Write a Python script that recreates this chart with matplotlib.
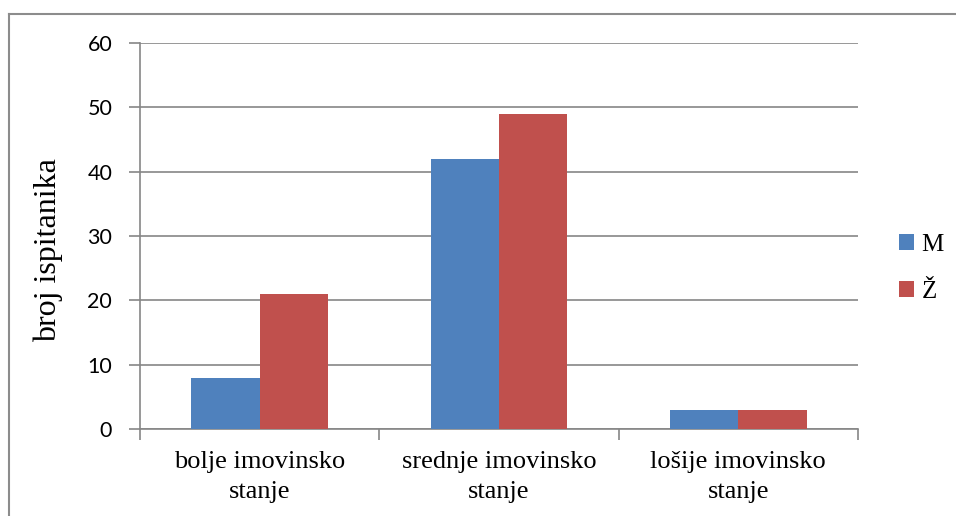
import matplotlib.pyplot as plt
import numpy as np
from matplotlib.lines import Line2D

categories = ["bolje imovinsko\nstanje", "srednje imovinsko\nstanje", "lošije imovinsko\nstanje"]
m_values = [8, 42, 3]
z_values = [21, 49, 3]
series_names = ["M", "Ž"]
y_ticks = [0, 10, 20, 30, 40, 50, 60]

blue = "#4f81bd"
red = "#c0504d"
grid_col = "#868686"
serif = ["Liberation Serif", "DejaVu Serif"]
sans = ["Lato", "DejaVu Sans"]

fig = plt.figure(figsize=(9.56, 5.16), dpi=100)
ax = fig.add_axes([140 / 956, 1 - 429 / 516, 718 / 956, 386 / 516])

x = np.arange(len(categories))
w = 1 / 3.5
ax.bar(x - w / 2, m_values, w, color=blue, label=series_names[0], zorder=3)
ax.bar(x + w / 2, z_values, w, color=red, label=series_names[1], zorder=3)

ax.set_xlim(-0.5, 2.5)
ax.set_ylim(0, 60)
ax.set_yticks(y_ticks)
ax.set_yticklabels([str(t) for t in y_ticks], family=sans, fontsize=15.5)
ax.yaxis.grid(True, color=grid_col, linewidth=1.2, zorder=0)
ax.tick_params(axis="y", length=8, width=1.2, color=grid_col, pad=12)

# category boundaries carry the tick marks, labels sit at the centers
ax.set_xticks([-0.5, 0.5, 1.5, 2.5])
ax.set_xticklabels([])
ax.set_xticks(x, minor=True)
ax.set_xticklabels(categories, minor=True, family=serif, fontsize=19,
                   linespacing=1.45)
ax.tick_params(axis="x", which="major", length=8, width=1.2, color=grid_col)
ax.tick_params(axis="x", which="minor", length=0, pad=16)

for side in ["top", "right"]:
    ax.spines[side].set_visible(False)
for side in ["left", "bottom"]:
    ax.spines[side].set_color(grid_col)
    ax.spines[side].set_linewidth(1.2)

ax.set_ylabel("broj ispitanika", family=serif, fontsize=23)
ax.yaxis.set_label_coords(-0.107, 0.4625)

leg = ax.legend(loc="center left", bbox_to_anchor=(1.026, 0.416), frameon=False,
                prop={"family": serif, "size": 18}, handlelength=0.6,
                handleheight=0.6, handletextpad=0.3, labelspacing=1.0)

# outer chart border (only top and left edges fall inside the picture)
fig.lines.append(Line2D([9 / 956, 1], [1 - 13.5 / 516, 1 - 13.5 / 516],
                        transform=fig.transFigure, color="#8c8c8c", linewidth=1.5))
fig.lines.append(Line2D([9 / 956, 9 / 956], [0, 1 - 13.5 / 516],
                        transform=fig.transFigure, color="#8c8c8c", linewidth=1.5))

fig.savefig("out.png", dpi=100)
